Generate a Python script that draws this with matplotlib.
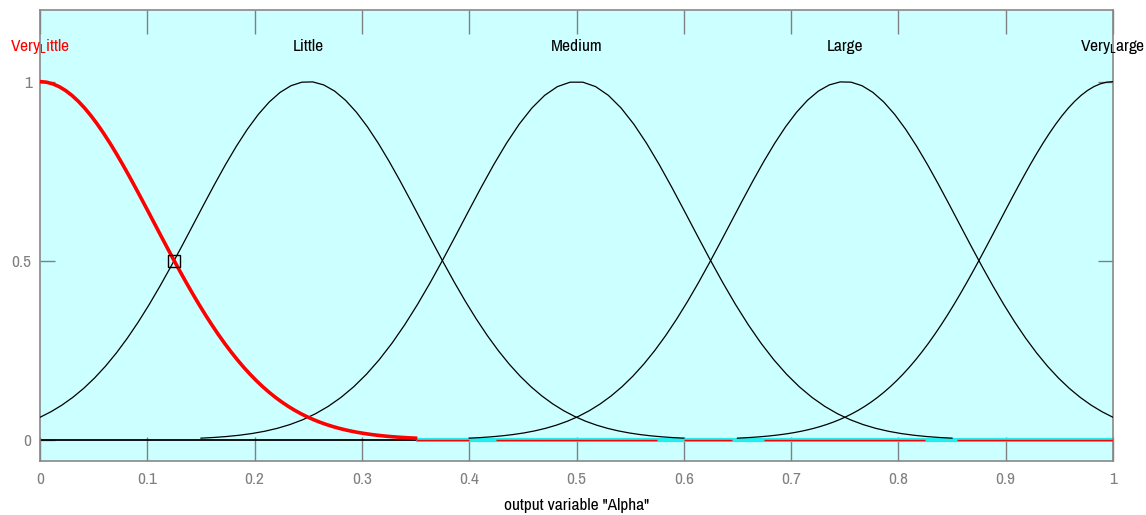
import numpy as np
import matplotlib
matplotlib.use("Agg")
import matplotlib.pyplot as plt
from matplotlib import font_manager

# Membership functions of output variable "Alpha" (Gaussian MFs)
mf_names = ["Very$_\\mathregular{L}$ittle", "Little", "Medium", "Large", "Very$_\\mathregular{L}$arge"]
mf_centers = [0.0, 0.25, 0.5, 0.75, 1.0]
mf_sigma = [0.1062, 0.1062, 0.1062, 0.1062, 0.1062]
selected = 0
x_ticks = [0, 0.1, 0.2, 0.3, 0.4, 0.5, 0.6, 0.7, 0.8, 0.9, 1]
x_ticklabels = ["0", "0.1", "0.2", "0.3", "0.4", "0.5", "0.6", "0.7", "0.8", "0.9", "1"]
y_ticks = [0, 0.5, 1]
y_ticklabels = ["0", "0.5", "1"]
xlabel = 'output variable "Alpha"'

avail = {f.name for f in font_manager.fontManager.ttflist}
fam = "Liberation Sans"
for cand in ["Archivo Narrow", "PT Sans Narrow", "Roboto Condensed", "Liberation Sans Narrow"]:
    if cand in avail:
        fam = cand
        break
plt.rcParams["font.family"] = [fam, "DejaVu Sans"]
plt.rcParams["mathtext.fontset"] = "custom"
plt.rcParams["mathtext.rm"] = fam
plt.rcParams["mathtext.it"] = fam

fig = plt.figure(figsize=(11.46, 5.15), dpi=100)
ax = fig.add_axes([40/1146, 1 - 460.5/515, (1113-40)/1146, (460.5-10)/515])
ax.set_facecolor("#ccffff")

half_width = 0.35  # curves are rendered only near their centre
for i, (c, s) in enumerate(zip(mf_centers, mf_sigma)):
    xs = np.linspace(max(0, c - half_width), min(1, c + half_width), 60)
    ys = np.exp(-((xs - c) ** 2) / (2 * s ** 2))
    if i == selected:
        ax.plot(xs, ys, color="red", lw=2.6, zorder=4)
    else:
        ax.plot(xs, ys, color="black", lw=0.9, zorder=3)

# baseline rendering of the near-zero tails
ax.plot([0, 0.35], [0, 0], color="black", lw=1.3, zorder=2)
ax.plot([0.35, 1.0], [0, 0], color="#22eeee", lw=3, zorder=2, solid_capstyle="butt")
for a, b in [(0.35, 0.4), (0.425, 0.575), (0.6, 0.645), (0.675, 0.825), (0.855, 1.0)]:
    ax.plot([a, b], [0, 0], color="red", lw=1.0, zorder=3, solid_capstyle="butt")

# crossing marker
ax.plot([0.125], [0.5], marker="s", ms=8, mfc="none", mec="black", mew=1.0, zorder=5)

for i, (name, c) in enumerate(zip(mf_names, mf_centers)):
    ax.text(c, 1.098, name, ha="center", va="center", fontsize=12.5,
            color="red" if i == selected else "black", zorder=6, clip_on=False)

ax.set_xlim(0, 1)
ax.set_ylim(-0.058, 1.2)
ax.set_xticks(x_ticks)
ax.set_xticklabels(x_ticklabels)
ax.set_yticks(y_ticks)
ax.set_yticklabels(y_ticklabels)
ax.tick_params(direction="in", width=1, color="#808080", labelcolor="#808080",
               labelsize=12.5, top=True, right=True)
ax.tick_params(axis="x", length=17, pad=8)
ax.tick_params(axis="y", length=11, pad=6)
for sp in ax.spines.values():
    sp.set_color("#888888")
    sp.set_linewidth(1.2)
ax.set_xlabel(xlabel, fontsize=12.5, labelpad=8)

fig.savefig("out.png", dpi=100, facecolor="white")
